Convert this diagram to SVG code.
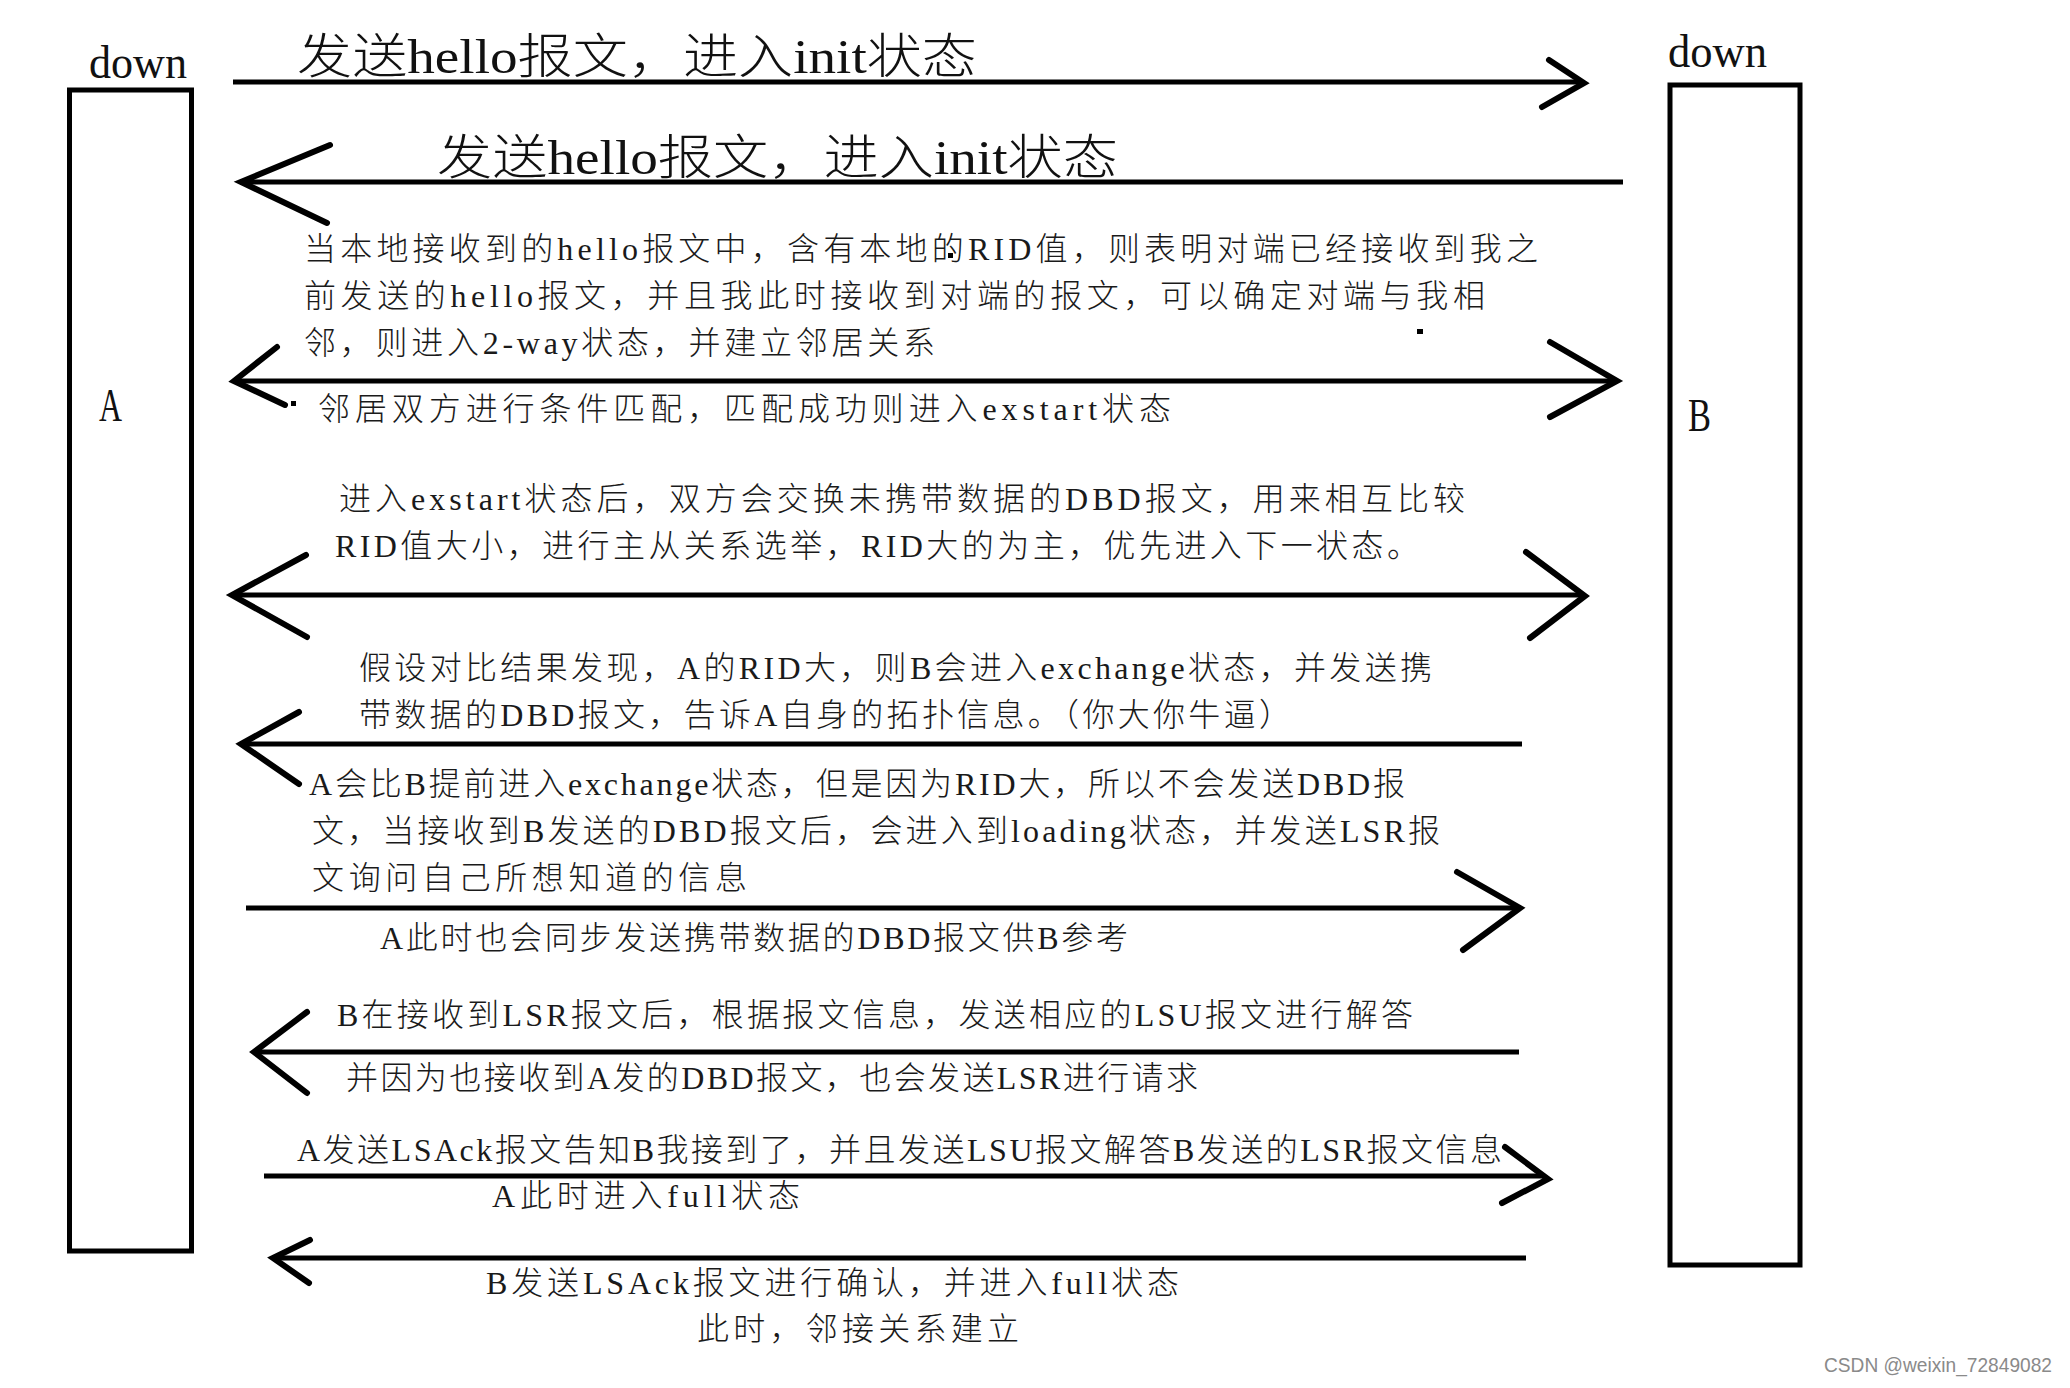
<svg xmlns="http://www.w3.org/2000/svg" width="2070" height="1388" viewBox="0 0 2070 1388">
<style>
.box{fill:none;stroke:#000;stroke-width:5}
.lbl{font-family:"Liberation Serif","Noto Sans CJK SC",serif;fill:#111;font-weight:300}
.big{font-size:48px}
.txt{font-size:32px;fill:#1a1a1a}
.ln{stroke:#000;stroke-width:5;fill:none}
.hd{stroke:#000;stroke-width:6;fill:none;stroke-linecap:round;stroke-linejoin:miter}
.wm{font-family:"Liberation Sans","Noto Sans CJK SC",sans-serif;font-size:21px;fill:#8a8a8a}
</style>
<rect width="2070" height="1388" fill="#fff"/>
<g id="nodeA">
<rect class="box" x="69.5" y="90" width="122" height="1161"/>
<text class="lbl" x="89" y="78" font-size="46" textLength="98" lengthAdjust="spacingAndGlyphs">down</text>
<text class="lbl" x="99" y="421" font-size="46" textLength="23" lengthAdjust="spacingAndGlyphs">A</text>
</g>
<g id="nodeB">
<rect class="box" x="1670" y="85" width="130" height="1180"/>
<text class="lbl" x="1668" y="67" font-size="46" textLength="99" lengthAdjust="spacingAndGlyphs">down</text>
<text class="lbl" x="1688" y="431" font-size="46" textLength="23" lengthAdjust="spacingAndGlyphs">B</text>
</g>
<g id="connectors">
<line class="ln" x1="233" y1="82" x2="1582" y2="82"/>
<polyline class="hd" points="1549,60 1584,83 1542,107"/>
<line class="ln" x1="243" y1="182" x2="1623" y2="182"/>
<polyline class="hd" points="330,145 241,182 327,223"/>
<line class="ln" x1="236" y1="381" x2="1614" y2="381"/>
<polyline class="hd" points="277,347 234,381 285,405"/>
<polyline class="hd" points="1550,342 1617,381 1550,417"/>
<line class="ln" x1="234" y1="595" x2="1583" y2="595"/>
<polyline class="hd" points="306,555 232,595 307,637"/>
<polyline class="hd" points="1526,552 1585,596 1530,638"/>
<line class="ln" x1="243" y1="744" x2="1522" y2="744"/>
<polyline class="hd" points="299,712 241,744 299,784"/>
<line class="ln" x1="246" y1="908" x2="1517" y2="908"/>
<polyline class="hd" points="1457,872 1520,908 1463,950"/>
<line class="ln" x1="256" y1="1052" x2="1519" y2="1052"/>
<polyline class="hd" points="307,1012 254,1052 307,1093"/>
<line class="ln" x1="264" y1="1176" x2="1545" y2="1176"/>
<polyline class="hd" points="1505,1147 1548,1179 1502,1203"/>
<line class="ln" x1="275" y1="1258" x2="1526" y2="1258"/>
<polyline class="hd" points="310,1240 273,1258 309,1283"/>
<rect x="291" y="401" width="5" height="5" fill="#000"/>
<rect x="1417" y="329" width="6" height="5" fill="#000"/>
<rect x="948" y="253" width="5" height="5" fill="#000"/>
</g>
<g id="labels">
<text class="lbl big" x="297" y="73" textLength="680" lengthAdjust="spacingAndGlyphs">发送hello报文，进入init状态</text>
<text class="lbl big" x="437" y="174" textLength="681" lengthAdjust="spacingAndGlyphs">发送hello报文，进入init状态</text>
<text class="lbl txt" x="304" y="260" textLength="1234" lengthAdjust="spacing">当本地接收到的hello报文中，含有本地的RID值，则表明对端已经接收到我之</text>
<text class="lbl txt" x="304" y="307" textLength="1181" lengthAdjust="spacing">前发送的hello报文，并且我此时接收到对端的报文，可以确定对端与我相</text>
<text class="lbl txt" x="304" y="354" textLength="631" lengthAdjust="spacing">邻，则进入2-way状态，并建立邻居关系</text>
<text class="lbl txt" x="318" y="420" textLength="853" lengthAdjust="spacing">邻居双方进行条件匹配，匹配成功则进入exstart状态</text>
<text class="lbl txt" x="339" y="510" textLength="1126" lengthAdjust="spacing">进入exstart状态后，双方会交换未携带数据的DBD报文，用来相互比较</text>
<text class="lbl txt" x="335" y="557" textLength="1084" lengthAdjust="spacing">RID值大小，进行主从关系选举，RID大的为主，优先进入下一状态。</text>
<text class="lbl txt" x="359" y="679" textLength="1073" lengthAdjust="spacing">假设对比结果发现，A的RID大，则B会进入exchange状态，并发送携</text>
<text class="lbl txt" x="359" y="726" textLength="932" lengthAdjust="spacing">带数据的DBD报文，告诉A自身的拓扑信息。（你大你牛逼）</text>
<text class="lbl txt" x="309" y="795" textLength="1096" lengthAdjust="spacing">A会比B提前进入exchange状态，但是因为RID大，所以不会发送DBD报</text>
<text class="lbl txt" x="312" y="842" textLength="1128" lengthAdjust="spacing">文，当接收到B发送的DBD报文后，会进入到loading状态，并发送LSR报</text>
<text class="lbl txt" x="312" y="889" textLength="435" lengthAdjust="spacing">文询问自己所想知道的信息</text>
<text class="lbl txt" x="380" y="949" textLength="748" lengthAdjust="spacing">A此时也会同步发送携带数据的DBD报文供B参考</text>
<text class="lbl txt" x="337" y="1026" textLength="1076" lengthAdjust="spacing">B在接收到LSR报文后，根据报文信息，发送相应的LSU报文进行解答</text>
<text class="lbl txt" x="346" y="1089" textLength="852" lengthAdjust="spacing">并因为也接收到A发的DBD报文，也会发送LSR进行请求</text>
<text class="lbl txt" x="297" y="1161" textLength="1205" lengthAdjust="spacing">A发送LSAck报文告知B我接到了，并且发送LSU报文解答B发送的LSR报文信息</text>
<text class="lbl txt" x="492" y="1207" textLength="308" lengthAdjust="spacing">A此时进入full状态</text>
<text class="lbl txt" x="486" y="1294" textLength="693" lengthAdjust="spacing">B发送LSAck报文进行确认，并进入full状态</text>
<text class="lbl txt" x="697" y="1340" textLength="322" lengthAdjust="spacing">此时，邻接关系建立</text>
<text class="wm" x="1824" y="1372" textLength="228" lengthAdjust="spacingAndGlyphs">CSDN @weixin_72849082</text>
</g>
</svg>
